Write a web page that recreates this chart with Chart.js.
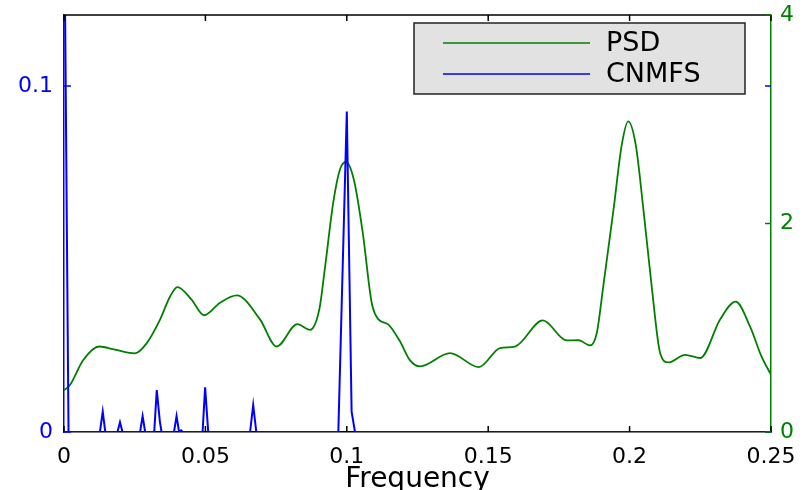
<!DOCTYPE html>
<html><head><meta charset="utf-8">
<script src="https://cdn.jsdelivr.net/npm/chart.js@4.4.0/dist/chart.umd.min.js"></script>
<style>html,body{margin:0;padding:0;background:#fff;overflow:hidden}#wrap{width:805px;height:490px}</style>
</head><body><div id="wrap"><canvas id="c" width="805" height="490"></canvas></div>
<script>
const seriesNames = ['PSD', 'CNMFS'];
const psdFreq  = [0, 0.0021, 0.0068, 0.0125, 0.018, 0.0251, 0.0292, 0.034, 0.0375, 0.0401, 0.0451, 0.0495, 0.0552, 0.0611, 0.0693, 0.0752, 0.0825, 0.087, 0.0903, 0.0923, 0.0952, 0.0976, 0.0997, 0.1025, 0.1056, 0.1088, 0.1112, 0.1147, 0.1188, 0.1223, 0.1259, 0.1365, 0.1467, 0.1542, 0.1595, 0.1693, 0.1778, 0.182, 0.186, 0.1884, 0.1907, 0.1943, 0.1972, 0.1995, 0.2022, 0.2049, 0.2078, 0.2108, 0.2137, 0.2196, 0.225, 0.232, 0.2375, 0.2426, 0.2467, 0.25];
const psdValue = [0.40, 0.45, 0.69, 0.82, 0.79, 0.755, 0.85, 1.08, 1.30, 1.39, 1.27, 1.12, 1.24, 1.31, 1.08, 0.82, 1.035, 0.98, 1.18, 1.58, 2.2, 2.52, 2.59, 2.42, 1.92, 1.24, 1.08, 1.03, 0.87, 0.69, 0.63, 0.757, 0.622, 0.805, 0.82, 1.07, 0.878, 0.88, 0.83, 0.95, 1.40, 2.13, 2.75, 2.98, 2.75, 2.13, 1.40, 0.757, 0.667, 0.74, 0.71, 1.08, 1.25, 1.01, 0.72, 0.55];
const cnmfsFreq  = [0, 0.0016, 0.0127, 0.0137, 0.0146, 0.0189, 0.0198, 0.0207, 0.0269, 0.0278, 0.0287, 0.0319, 0.0328, 0.0339, 0.0345, 0.0389, 0.0398, 0.0407, 0.0414, 0.0420, 0.0490, 0.0499, 0.0510, 0.0658, 0.0669, 0.0680, 0.0970, 0.1000, 0.1017, 0.1029, 0.25];
const cnmfsValue = [0.16, 0, 0, 0.0059, 0, 0, 0.0028, 0, 0, 0.0046, 0, 0, 0.0121, 0.003, 0, 0, 0.0046, 0, 0.0005, 0, 0, 0.0129, 0, 0, 0.0078, 0, 0, 0.0926, 0.0059, 0, 0];
const xTicks = [0, 0.05, 0.1, 0.15, 0.2, 0.25];
const xTickLabels = ['0', '0.05', '0.1', '0.15', '0.2', '0.25'];
const leftTicks = [0, 0.1];
const leftTickLabels = ['0', '0.1'];
const rightTicks = [0, 2, 4];
const rightTickLabels = ['0', '2', '4'];

const GREEN = '#008000', BLUE = '#0000ff';
const FONT = 'DejaVu Sans';

const framePlugin = {
  id: 'frame',
  afterDatasetsDraw(chart) {
    const {ctx, chartArea: a, scales} = chart;
    ctx.save();
    ctx.lineWidth = 1.5;
    ctx.strokeStyle = '#000';
    ctx.beginPath();
    ctx.moveTo(a.left, a.top); ctx.lineTo(a.right, a.top);
    scales.x.ticks.forEach(t => {
      const px = scales.x.getPixelForValue(t.value);
      ctx.moveTo(px, a.bottom); ctx.lineTo(px, a.bottom - 6);
      ctx.moveTo(px, a.top); ctx.lineTo(px, a.top + 6);
    });
    ctx.stroke();
    ctx.strokeStyle = BLUE;
    ctx.beginPath();
    scales.y.ticks.forEach(t => {
      const py = scales.y.getPixelForValue(t.value);
      ctx.moveTo(a.left, py); ctx.lineTo(a.left + 7, py);
      ctx.moveTo(a.right, py); ctx.lineTo(a.right - 6, py);
    });
    ctx.stroke();
    ctx.strokeStyle = GREEN;
    ctx.beginPath();
    scales.y2.ticks.forEach(t => {
      const py = scales.y2.getPixelForValue(t.value);
      ctx.moveTo(a.right, py); ctx.lineTo(a.right - 6, py);
    });
    ctx.stroke();
    ctx.restore();
  },
  afterDraw(chart) {
    const {ctx, chartArea: a} = chart;
    const bx = a.left + 350, by = a.top + 8, bw = a.right - 26 - bx, bh = 71;
    ctx.save();
    ctx.fillStyle = '#e2e2e2';
    ctx.fillRect(bx, by, bw, bh);
    ctx.lineWidth = 1.5;
    ctx.strokeStyle = '#222';
    ctx.strokeRect(bx, by, bw, bh);
    ctx.font = '27px "' + FONT + '"';
    ctx.textBaseline = 'middle';
    ctx.fillStyle = '#000';
    chart.data.datasets.forEach((ds, i) => {
      const yy = by + 20 + i * 31;
      ctx.strokeStyle = ds.borderColor;
      ctx.lineWidth = 1.5;
      ctx.beginPath(); ctx.moveTo(bx + 29, yy); ctx.lineTo(bx + 176, yy); ctx.stroke();
      ctx.fillText(ds.label, bx + 192, yy + 1);
    });
    ctx.restore();
  }
};

function noPad(s) { s.paddingTop = 0; s.paddingBottom = 0; s.paddingLeft = 0; s.paddingRight = 0; }

new Chart(document.getElementById('c'), {
  type: 'line',
  data: {
    datasets: [
      { label: seriesNames[0], data: psdFreq.map((f, i) => ({x: f, y: psdValue[i]})), yAxisID: 'y2',
        borderColor: GREEN, borderWidth: 1.8, pointRadius: 0, cubicInterpolationMode: 'monotone', fill: false, order: 1 },
      { label: seriesNames[1], data: cnmfsFreq.map((f, i) => ({x: f, y: cnmfsValue[i]})), yAxisID: 'y',
        borderColor: BLUE, borderWidth: 2, pointRadius: 0, tension: 0, fill: false, order: 0 }
    ]
  },
  options: {
    responsive: false, animation: false, devicePixelRatio: 1,
    layout: { padding: { top: 15, left: 0, right: 0, bottom: 0 } },
    plugins: { legend: { display: false }, tooltip: { enabled: false } },
    scales: {
      x: {
        type: 'linear', min: 0, max: 0.25,
        afterBuildTicks: s => { s.ticks = xTicks.map(v => ({value: v})); },
        afterFit: s => { s.height = 58; noPad(s); },
        ticks: { autoSkip: false, maxRotation: 0, padding: 12, color: '#000', font: {family: FONT, size: 22},
                 callback: (v, i) => xTickLabels[i] },
        grid: { display: false, drawTicks: false },
        border: { display: true, color: '#000', width: 1.5 },
        title: { display: true, text: 'Frequency', color: '#000', font: {family: FONT, size: 28}, padding: {top: 0, bottom: -7} }
      },
      y: {
        position: 'left', min: 0, max: 0.1205,
        afterBuildTicks: s => { s.ticks = leftTicks.map(v => ({value: v})); },
        afterFit: s => { s.width = 64; noPad(s); },
        ticks: { padding: 11, color: BLUE, font: {family: FONT, size: 22}, callback: (v, i) => leftTickLabels[i] },
        grid: { display: false, drawTicks: false },
        border: { display: true, color: BLUE, width: 1.5 }
      },
      y2: {
        position: 'right', min: 0, max: 4,
        afterBuildTicks: s => { s.ticks = rightTicks.map(v => ({value: v})); },
        afterFit: s => { s.width = 34; noPad(s); },
        ticks: { padding: 9, color: GREEN, font: {family: FONT, size: 22}, callback: (v, i) => rightTickLabels[i] },
        grid: { display: false, drawTicks: false },
        border: { display: true, color: GREEN, width: 1.5 }
      }
    }
  },
  plugins: [framePlugin]
});
</script></body></html>
